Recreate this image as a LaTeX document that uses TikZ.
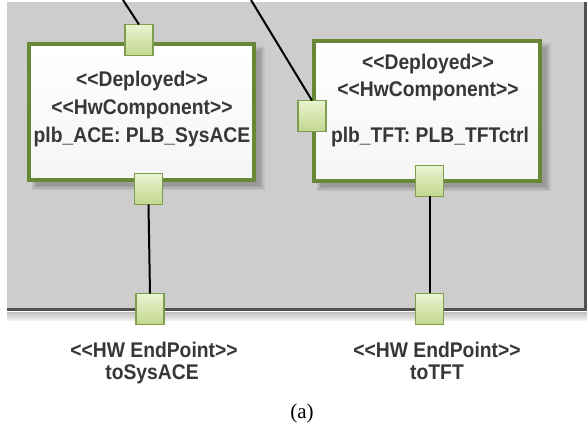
\documentclass[tikz,border=0pt]{standalone}
\usepackage{graphicx}
\usepackage{fontspec}
\setmainfont{Liberation Sans}
\newfontfamily\capfont{Liberation Serif}
\newcommand\lguil{<\kern0pt<}
\newcommand\rguil{>\kern0pt>}
\newcommand\tallt[1]{\scalebox{1}[1.1]{#1}}
\definecolor{boxgreen}{RGB}{104,135,55}
\definecolor{portedge}{RGB}{125,158,78}
\definecolor{porttop}{RGB}{234,243,208}
\definecolor{portbot}{RGB}{194,215,142}
\definecolor{txtgray}{RGB}{55,55,55}
\definecolor{bggray}{RGB}{205,205,205}
\definecolor{edgegray}{RGB}{80,80,80}
\begin{document}
\begin{tikzpicture}[x=1pt,y=-1pt,
  boxstyle/.style={draw=boxgreen, line width=4.5pt, top color=white, bottom color=gray!8, inner sep=0pt, outer sep=0pt},
  portstyle/.style={draw=portedge, line width=1.2pt, top color=porttop, bottom color=portbot, minimum width=28pt, minimum height=31pt, inner sep=0pt, outer sep=0pt},
  txt/.style={anchor=base, text=txtgray, font=\fontsize{19.3}{22}\selectfont\bfseries, inner sep=0pt},
  conn/.style={line width=2pt, black}]
\useasboundingbox (0,0) rectangle (587,427);
\fill[white] (0,0) rectangle (587,427);
% gray deployment area
\fill[bggray] (7,2) rectangle (585,309);
\draw[edgegray, line width=3pt] (585,2) -- (585,309.5);
\draw[edgegray, line width=3.5pt] (7,309.5) -- (587,309.5);
\shade[top color=gray!45, bottom color=gray!8] (7,313) rectangle (587,321);
% shadows
\foreach \k in {0,1.5,3,4.5}{
  \fill[black, opacity=0.065] (29+7-\k,44+7-\k) rectangle (254+6+\k,180+6+\k);
  \fill[black, opacity=0.065] (314+7-\k,41+7-\k) rectangle (540+6+\k,181+6+\k);
}
% boxes
\node[boxstyle, minimum width=225pt, minimum height=136pt] (boxL) at (141.5,112) {};
\node[boxstyle, minimum width=226pt, minimum height=140pt] (boxR) at (427,111) {};
% texts
\node[txt] (l1) at (142,87) {\tallt{\lguil Deployed\rguil}};
\node[txt] (l2) at (142,115) {\tallt{\lguil HwComponent\rguil}};
\node[txt] (l3) at (142,143) {\tallt{plb\_ACE: PLB\_SysACE}};
\node[txt] (r1) at (428,70) {\tallt{\lguil Deployed\rguil}};
\node[txt] (r2) at (428,97) {\tallt{\lguil HwComponent\rguil}};
\node[txt] (r3) at (430,143) {\tallt{plb\_TFT: PLB\_TFTctrl}};
% ports
\node[portstyle] (Ltop) at (139,40) {};
\node[portstyle] (Lbot) at (148.5,189) {};
\node[portstyle] (Rleft) at (312,116) {};
\node[portstyle] (Rbot) at (429.5,181) {};
\node[portstyle] (LEP) at (150,309) {};
\node[portstyle] (REP) at (429.5,309) {};
% end point labels
\node[txt] (e1) at (154,358) {\tallt{\lguil HW EndPoint\rguil}};
\node[txt] (e2) at (152,380) {\tallt{toSysACE}};
\node[txt] (e3) at (437,358) {\tallt{\lguil HW EndPoint\rguil}};
\node[txt] (e4) at (437,380) {\tallt{toTFT}};
\node[anchor=base, inner sep=0pt, font=\capfont\fontsize{21}{23}\selectfont] (cap) at (302,419) {(a)};
% connectors
\coordinate (t1) at (123,0);
\coordinate (t2) at (251,0);
\draw[conn] (t1) -- (Ltop.north);
\draw[conn] (t2) -- (Rleft.north);
\draw[conn] (Lbot.south) -- (LEP.north);
\draw[conn] (Rbot.south) -- (REP.north);
\end{tikzpicture}
\end{document}
